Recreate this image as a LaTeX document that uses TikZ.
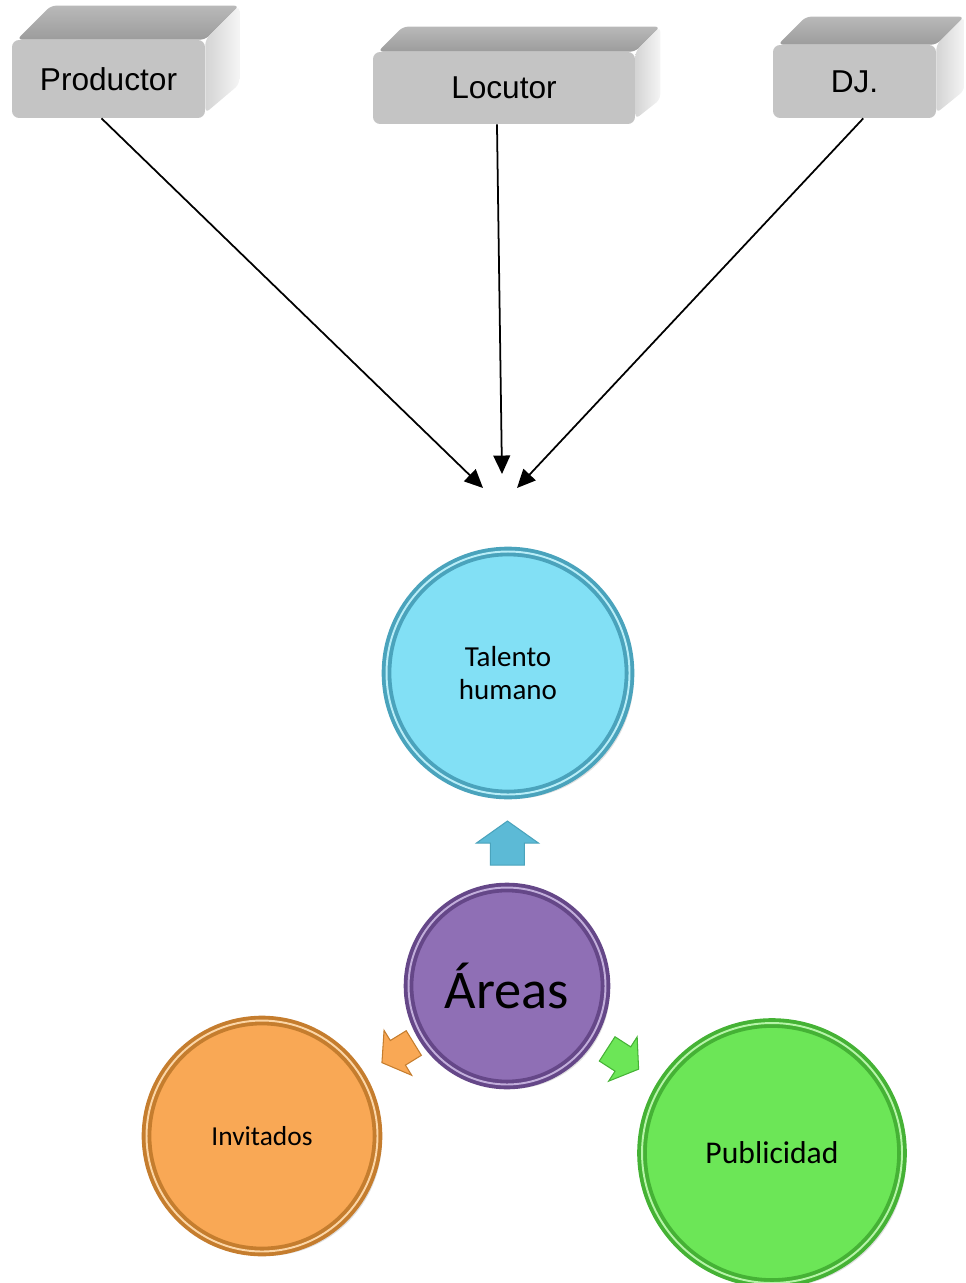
\documentclass[tikz,border=0pt]{standalone}
\usepackage{fontspec}
\setmainfont{Liberation Sans}
\newfontfamily\calibrifont{Carlito}
\usepackage{tikz}
\usetikzlibrary{arrows.meta, positioning, calc, backgrounds, shadows}

\definecolor{boxfront}{HTML}{C4C4C4}
\definecolor{boxtop}{HTML}{9C9C9C}
\definecolor{boxside}{HTML}{D4D4D4}
\definecolor{bluefill}{HTML}{82E0F5}
\definecolor{bluerim}{HTML}{4AA3BC}
\definecolor{bluelight}{HTML}{B9EEF8}
\definecolor{purplefill}{HTML}{8F6FB5}
\definecolor{purplerim}{HTML}{654788}
\definecolor{purplelight}{HTML}{C2AEDB}
\definecolor{orangefill}{HTML}{F9A855}
\definecolor{orangerim}{HTML}{C57D2E}
\definecolor{orangelight}{HTML}{FCD6A6}
\definecolor{greenfill}{HTML}{6CE657}
\definecolor{greenrim}{HTML}{45B235}
\definecolor{greenlight}{HTML}{B6F5A8}
\definecolor{uparrow}{HTML}{5CBAD6}

\begin{document}
\begin{tikzpicture}[
    x=0.02cm, y=-0.02cm,
    block/.style={rectangle, fill=boxfront, rounded corners=4pt, inner sep=0pt,
        font=\fontsize{18}{20}\selectfont},
    arrow/.style={-{Triangle[length=10.5pt, width=9.5pt]}, line width=1pt},
    area/.style={circle, fill=#1fill, draw=#1rim, line width=2.2pt,
        double=#1light, double distance=1.1pt, align=center,
        drop shadow={opacity=0.25, shadow xshift=2.5pt, shadow yshift=-2.5pt}},
    blockarrow/.pic={\path[pic actions] (-22,-17) -- (0,-17) -- (0,-31) -- (22,0)
        -- (0,31) -- (0,17) -- (-22,17) -- cycle;}
]
    \useasboundingbox (0,0) rectangle (965,1283);

    \node[block, minimum width=3.86cm, minimum height=1.56cm] (prod) at (108.5,79) {Productor};
    \node[block, minimum width=5.24cm, minimum height=1.44cm] (loc) at (504,88) {Locutor};
    \node[block, minimum width=3.26cm, minimum height=1.46cm] (dj) at (854.5,81.5) {DJ.};

    \begin{scope}[on background layer]
        \foreach \n/\d in {prod/34, loc/25, dj/28} {
            \shade[top color=gray!55, bottom color=boxtop, rounded corners=3pt]
                ([xshift=3pt]\n.north west) -- ++(\d,-\d)
                -- ($(\n.north east)+(\d,-\d)$) -- (\n.north east) -- cycle;
            \shade[left color=boxside, right color=gray!8, rounded corners=3pt] (\n.north east)
                -- ($(\n.north east)+(\d,-\d)$) -- ($(\n.south east)+(\d,-\d)$)
                -- ([yshift=3pt]\n.south east) -- cycle;
        }
    \end{scope}

    \coordinate (h1) at (483,488);
    \coordinate (h2) at (502,474);
    \coordinate (h3) at (517,488);

    \draw[arrow] ([xshift=-4pt]prod.south) -- (h1);
    \draw[arrow] ([xshift=-4pt]loc.south) -- (h2);
    \draw[arrow] ([xshift=5pt]dj.south) -- (h3);

    \node[area=blue, minimum size=4.86cm, font=\calibrifont\fontsize{16.5}{19}\selectfont]
        (talento) at (508,673) {Talento\\humano};
    \node[area=purple, minimum size=3.94cm, font=\calibrifont\fontsize{31}{34}\selectfont]
        (areas) at (507,986) {Áreas};
    \node[area=orange, minimum size=4.62cm, font=\calibrifont\fontsize{15.6}{18}\selectfont]
        (invit) at (262,1136) {Invitados};
    \node[area=green, minimum size=5.2cm, font=\calibrifont\fontsize{18}{20}\selectfont]
        (publi) at (772,1153) {Publicidad};

    \pic[fill=uparrow, draw=bluerim, line width=0.6pt, rotate=90]
        at ($(areas)!2.86cm!(talento)$) {blockarrow};
    \pic[fill=orangefill, draw=orangerim, line width=0.6pt, rotate=211.6, scale=0.85]
        at ($(areas)!2.56cm!(invit)$) {blockarrow};
    \pic[fill=greenfill, draw=greenrim, line width=0.6pt, rotate=-32.8, scale=0.85]
        at ($(areas)!2.74cm!(publi)$) {blockarrow};
\end{tikzpicture}
\end{document}
